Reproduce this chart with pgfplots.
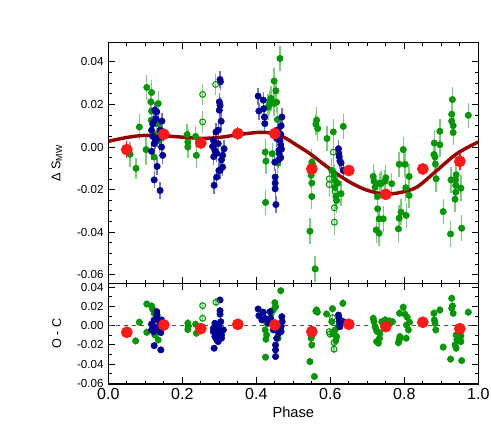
\documentclass[border=0pt]{standalone}
\usepackage{fontspec}
\setmainfont{Liberation Sans}
\usepackage{pgfplots}
\usepackage{pgfplotstable}
\pgfplotsset{compat=1.18}

\definecolor{ptgreen}{RGB}{0,150,0}
\definecolor{errgreen}{RGB}{125,205,125}
\definecolor{ptblue}{RGB}{0,0,150}
\definecolor{errblue}{RGB}{115,115,215}
\definecolor{ptred}{RGB}{255,25,25}
\definecolor{fitred}{RGB}{150,0,0}

% ---- top panel: Delta S_MW ----
\pgfplotstableread{
x y e
0.059 -0.0034 0.006
0.075 -0.0100 0.005
0.084 0.0094 0.006
0.102 -0.0012 0.007
0.104 0.0280 0.006
0.115 0.0212 0.006
0.117 0.0256 0.006
0.117 0.0169 0.005
0.116 0.0126 0.006
0.124 -0.0047 0.006
0.135 0.0204 0.006
0.135 0.0110 0.005
0.130 0.0060 0.006
0.138 0.0030 0.006
0.213 0.0058 0.005
0.215 0.0024 0.006
0.215 0.0000 0.005
0.236 0.0050 0.005
0.238 -0.0039 0.006
0.464 0.0416 0.006
0.448 0.0310 0.006
0.453 0.0264 0.005
0.440 0.0228 0.006
0.437 0.0215 0.005
0.448 0.0204 0.006
0.435 0.0200 0.005
0.432 0.0188 0.006
0.455 0.0210 0.005
0.457 0.0129 0.006
0.424 -0.0024 0.006
0.426 -0.0066 0.006
0.443 -0.0031 0.005
0.458 -0.0075 0.006
0.425 -0.0260 0.006
0.563 0.0126 0.006
0.561 0.0107 0.005
0.566 0.0087 0.006
0.550 -0.0071 0.006
0.553 -0.0085 0.005
0.548 -0.0133 0.006
0.550 -0.0169 0.006
0.550 -0.0232 0.006
0.545 -0.0395 0.006
0.559 -0.0572 0.006
0.591 0.0040 0.006
0.608 0.0071 0.006
0.635 0.0097 0.006
0.604 -0.0110 0.006
0.610 -0.0130 0.005
0.613 -0.0157 0.006
0.612 -0.0190 0.005
0.615 -0.0232 0.006
0.617 -0.0251 0.006
0.629 -0.0219 0.006
0.620 -0.0170 0.005
0.716 -0.0138 0.006
0.718 -0.0160 0.005
0.721 -0.0188 0.006
0.733 -0.0170 0.005
0.728 -0.0232 0.006
0.728 -0.0290 0.006
0.732 -0.0337 0.006
0.743 -0.0337 0.006
0.724 -0.0389 0.006
0.732 -0.0405 0.006
0.750 -0.0144 0.006
0.748 -0.0160 0.005
0.766 -0.0172 0.005
0.737 -0.0172 0.006
0.786 -0.0081 0.006
0.797 -0.0012 0.006
0.802 -0.0081 0.006
0.813 -0.0138 0.006
0.804 -0.0191 0.006
0.813 -0.0227 0.006
0.791 -0.0306 0.006
0.786 -0.0334 0.006
0.784 -0.0384 0.006
0.805 -0.0321 0.006
0.881 0.0019 0.006
0.896 0.0074 0.006
0.896 0.0011 0.006
0.880 -0.0035 0.006
0.883 -0.0047 0.006
0.884 -0.0080 0.006
0.886 -0.0149 0.006
0.905 -0.0303 0.006
0.925 -0.0408 0.006
0.930 0.0223 0.006
0.928 0.0154 0.006
0.928 0.0122 0.006
0.932 0.0100 0.005
0.932 0.0068 0.006
0.973 0.0149 0.006
0.926 -0.0154 0.006
0.939 -0.0154 0.006
0.940 -0.0130 0.005
0.939 -0.0180 0.005
0.939 -0.0212 0.006
0.937 -0.0245 0.006
0.953 -0.0193 0.006
0.955 -0.0381 0.006
}\topgreen

\pgfplotstableread{
x y e
0.255 0.0247 0.005
0.255 0.0118 0.005
0.290 0.0294 0.005
0.608 -0.0024 0.006
0.597 -0.0149 0.006
0.597 -0.0176 0.006
0.611 -0.0285 0.006
0.611 -0.0353 0.006
0.613 -0.0210 0.005
}\topopen

\pgfplotstableread{
x y e
0.120 0.0107 0.004
0.126 0.0173 0.004
0.131 0.0165 0.004
0.129 0.0133 0.004
0.122 0.0118 0.004
0.117 0.0079 0.004
0.120 0.0050 0.004
0.124 0.0016 0.004
0.128 0.0030 0.004
0.133 0.0040 0.004
0.140 0.0079 0.004
0.145 0.0122 0.004
0.144 0.0000 0.004
0.147 -0.0039 0.004
0.132 -0.0091 0.004
0.124 -0.0154 0.004
0.140 -0.0204 0.004
0.138 0.0045 0.004
0.117 -0.0020 0.004
0.302 0.0317 0.004
0.303 0.0306 0.004
0.300 0.0212 0.004
0.302 0.0196 0.004
0.300 0.0173 0.004
0.305 0.0121 0.004
0.297 0.0079 0.004
0.291 0.0071 0.004
0.284 0.0032 0.004
0.282 0.0003 0.004
0.288 -0.0016 0.004
0.297 0.0016 0.004
0.313 -0.0008 0.004
0.309 -0.0039 0.004
0.293 -0.0030 0.004
0.302 -0.0110 0.004
0.309 -0.0094 0.004
0.293 -0.0141 0.004
0.286 -0.0180 0.004
0.306 -0.0060 0.004
0.285 -0.0045 0.004
0.299 -0.0110 0.004
0.405 0.0239 0.004
0.407 0.0169 0.004
0.419 0.0220 0.004
0.420 0.0180 0.004
0.422 0.0141 0.004
0.423 0.0110 0.004
0.469 0.0141 0.004
0.467 0.0100 0.004
0.466 0.0060 0.004
0.464 0.0030 0.004
0.466 0.0010 0.004
0.468 -0.0010 0.004
0.462 -0.0030 0.004
0.466 -0.0050 0.004
0.460 -0.0060 0.004
0.450 -0.0071 0.004
0.451 -0.0141 0.004
0.451 -0.0169 0.004
0.451 -0.0196 0.004
0.453 -0.0270 0.004
0.455 0.0040 0.004
0.458 0.0080 0.004
0.461 -0.0015 0.004
0.622 -0.0008 0.004
0.623 -0.0030 0.004
0.624 -0.0045 0.004
0.626 -0.0065 0.004
0.629 -0.0075 0.004
0.635 -0.0110 0.004
}\topblue

\pgfplotstableread{
x y e
0.05 -0.0012 0.004
0.15 0.0060 0.003
0.25 0.0019 0.003
0.35 0.0063 0.003
0.45 0.0063 0.003
0.55 -0.0103 0.004
0.65 -0.0110 0.002
0.75 -0.0222 0.002
0.85 -0.0103 0.003
0.95 -0.0067 0.004
}\topred

\pgfplotstableread{
x y
0.00 0.0027
0.05 0.0045
0.09 0.0054
0.13 0.0055
0.18 0.0049
0.25 0.0041
0.30 0.0045
0.35 0.0058
0.40 0.0068
0.43 0.0068
0.47 0.0050
0.51 0.0008
0.545 -0.0031
0.58 -0.0078
0.617 -0.0125
0.653 -0.0165
0.689 -0.0196
0.725 -0.0215
0.755 -0.0221
0.79 -0.0213
0.834 -0.0188
0.888 -0.0110
0.942 -0.0031
1.00 0.0024
}\fitcurve

% ---- bottom panel: O - C ----
\pgfplotstableread{
x y e
0.104 0.0224 0.004
0.084 0.0035 0.004
0.074 -0.0158 0.004
0.117 0.0204 0.004
0.120 0.0170 0.004
0.124 0.0128 0.004
0.130 0.0080 0.004
0.132 0.0110 0.004
0.104 -0.0069 0.004
0.126 -0.0096 0.004
0.135 -0.0148 0.004
0.215 0.0025 0.004
0.215 -0.0040 0.004
0.216 -0.0010 0.004
0.236 0.0014 0.004
0.238 -0.0079 0.004
0.466 0.0362 0.004
0.450 0.0238 0.004
0.452 0.0197 0.004
0.446 0.0162 0.004
0.440 0.0128 0.004
0.440 0.0025 0.004
0.428 0.0030 0.004
0.424 -0.0044 0.004
0.428 -0.0096 0.004
0.426 -0.0140 0.004
0.425 -0.0327 0.004
0.459 -0.0130 0.004
0.563 0.0162 0.004
0.565 0.0140 0.004
0.561 0.0150 0.004
0.550 -0.0106 0.004
0.548 -0.0130 0.004
0.550 -0.0200 0.004
0.545 -0.0372 0.004
0.557 -0.0527 0.004
0.549 -0.0040 0.004
0.590 0.0121 0.004
0.606 0.0176 0.004
0.634 0.0231 0.004
0.613 -0.0044 0.004
0.608 -0.0086 0.004
0.617 -0.0113 0.004
0.615 -0.0155 0.004
0.622 -0.0006 0.004
0.604 0.0041 0.004
0.716 0.0076 0.004
0.718 0.0041 0.004
0.721 -0.0010 0.004
0.724 -0.0044 0.004
0.727 -0.0062 0.004
0.725 -0.0165 0.004
0.730 -0.0182 0.004
0.739 0.0041 0.004
0.734 -0.0079 0.004
0.733 -0.0130 0.004
0.748 0.0059 0.004
0.760 0.0049 0.004
0.768 0.0041 0.004
0.787 0.0128 0.004
0.797 0.0190 0.004
0.802 0.0118 0.004
0.806 0.0007 0.004
0.814 0.0035 0.004
0.811 -0.0044 0.004
0.788 -0.0113 0.004
0.787 -0.0141 0.004
0.784 -0.0176 0.004
0.805 -0.0130 0.004
0.808 0.0087 0.004
0.880 0.0128 0.004
0.896 0.0162 0.004
0.881 0.0059 0.004
0.883 0.0025 0.004
0.885 -0.0044 0.004
0.928 0.0283 0.004
0.930 0.0204 0.004
0.928 0.0180 0.004
0.932 0.0128 0.004
0.905 -0.0223 0.004
0.925 -0.0347 0.004
0.940 -0.0096 0.004
0.942 -0.0148 0.004
0.937 -0.0200 0.004
0.940 -0.0234 0.004
0.953 -0.0106 0.004
0.953 -0.0165 0.004
0.955 -0.0362 0.004
0.973 0.0139 0.004
}\botgreen

\pgfplotstableread{
x y e
0.255 0.0207 0.004
0.255 0.0076 0.004
0.291 0.0242 0.004
0.606 0.0083 0.004
0.597 -0.0062 0.004
0.599 -0.0086 0.004
0.610 -0.0176 0.004
0.610 -0.0244 0.004
}\botopen

\pgfplotstableread{
x y e
0.131 0.0118 0.003
0.124 0.0059 0.003
0.135 0.0066 0.003
0.117 0.0018 0.003
0.124 -0.0010 0.003
0.140 0.0025 0.003
0.144 0.0059 0.003
0.122 -0.0062 0.003
0.135 -0.0044 0.003
0.142 -0.0072 0.003
0.117 -0.0044 0.003
0.146 -0.0003 0.003
0.131 0.0145 0.003
0.124 -0.0207 0.003
0.142 -0.0251 0.003
0.302 0.0266 0.003
0.302 0.0155 0.003
0.302 0.0118 0.003
0.304 0.0041 0.003
0.288 0.0025 0.003
0.284 -0.0027 0.003
0.284 -0.0062 0.003
0.288 -0.0113 0.003
0.293 -0.0148 0.003
0.286 -0.0234 0.003
0.297 -0.0165 0.003
0.306 -0.0130 0.003
0.311 -0.0044 0.003
0.302 -0.0062 0.003
0.296 -0.0089 0.003
0.306 -0.0096 0.003
0.299 -0.0010 0.003
0.295 -0.0037 0.003
0.291 0.0007 0.003
0.405 0.0173 0.003
0.407 0.0103 0.003
0.419 0.0139 0.003
0.424 0.0076 0.003
0.415 0.0059 0.003
0.437 0.0145 0.003
0.439 0.0076 0.003
0.432 0.0025 0.003
0.469 0.0093 0.003
0.470 0.0041 0.003
0.467 -0.0010 0.003
0.467 -0.0062 0.003
0.460 -0.0044 0.003
0.446 -0.0044 0.003
0.460 -0.0079 0.003
0.452 -0.0200 0.003
0.452 -0.0251 0.003
0.452 -0.0320 0.003
0.455 -0.0130 0.003
0.622 0.0110 0.003
0.624 0.0076 0.003
0.624 0.0041 0.003
0.626 0.0007 0.003
0.635 0.0041 0.003
0.626 -0.0010 0.003
}\botblue

\pgfplotstableread{
x y e
0.05 -0.0069 0.002
0.15 0.0007 0.002
0.25 -0.0031 0.002
0.35 0.0014 0.002
0.45 0.0007 0.002
0.55 -0.0062 0.002
0.65 0.0014 0.002
0.75 -0.0010 0.002
0.85 0.0035 0.002
0.95 -0.0031 0.002
}\botred

\pgfplotsset{
  panel/.style={
    scale only axis, width=277.5pt,
    xmin=0, xmax=1,
    axis line style={line width=1.1pt},
    tick align=inside,
    tick style={black, line width=0.7pt},
    major tick length=5pt, minor tick length=2.5pt,
    xtick={0,0.2,0.4,0.6,0.8,1}, minor x tick num=3,
    /pgf/number format/assume math mode=true,
    xticklabel style={font=\fontsize{12}{14}\selectfont,
      /pgf/number format/.cd, fixed, fixed zerofill, precision=1},
    yticklabel style={font=\fontsize{8.7}{10}\selectfont,
      /pgf/number format/.cd, fixed, fixed zerofill, precision=2},
    scaled y ticks=false,
    every axis y label/.style={at={(axis description cs:-0.139,0.5)},
      rotate=90, anchor=center, font=\fontsize{9.5}{11}\selectfont},
    clip=true,
  },
  greenpts/.style={only marks, mark=*, mark size=2.4pt,
    mark options={fill=ptgreen, draw=ptgreen},
    error bars/.cd, y dir=both, y explicit,
    error bar style={errgreen, line width=1pt}, error mark=none},
  openpts/.style={only marks, mark=o, mark size=2.2pt,
    mark options={draw=ptgreen, line width=0.8pt},
    error bars/.cd, y dir=both, y explicit,
    error bar style={errgreen, line width=1pt}, error mark=none},
  bluepts/.style={only marks, mark=*, mark size=2.4pt,
    mark options={fill=ptblue, draw=ptblue},
    error bars/.cd, y dir=both, y explicit,
    error bar style={errblue, line width=1pt}, error mark=none},
  redpts/.style={only marks, mark=*, mark size=4.2pt,
    mark options={fill=ptred, draw=ptred},
    error bars/.cd, y dir=both, y explicit,
    error bar style={ptred, line width=1pt}, error mark=none},
}

\begin{document}
\begin{tikzpicture}
\begin{axis}[panel, name=top,
  height=180.5pt,
  ymin=-0.064, ymax=0.049,
  ytick={-0.06,-0.04,-0.02,0,0.02,0.04}, minor y tick num=3,
  xticklabels={},
  ylabel={Δ S\textsubscript{MW}},
]
\addplot[greenpts] table[x=x, y=y, y error=e] {\topgreen};
\addplot[bluepts] table[x=x, y=y, y error=e] {\topblue};
\addplot[openpts] table[x=x, y=y, y error=e] {\topopen};
\addplot[fitred, line width=2.6pt, smooth, tension=0.5] table[x=x, y=y] {\fitcurve};
\addplot[redpts] table[x=x, y=y, y error=e] {\topred};
\end{axis}

\begin{axis}[panel, name=bot,
  at={(top.south west)}, anchor=north west,
  height=75.5pt,
  ymin=-0.0605, ymax=0.0438,
  ytick={-0.06,-0.04,-0.02,0,0.02,0.04}, minor y tick num=1,
  ylabel={O - C},
  xlabel={Phase},
  xlabel style={at={(axis description cs:0.5,-0.28)}, anchor=center,
    font=\fontsize{11}{13}\selectfont},
]
\addplot[black!70, dashed, line width=0.7pt] coordinates {(0,0) (1,0)};
\addplot[greenpts] table[x=x, y=y, y error=e] {\botgreen};
\addplot[bluepts] table[x=x, y=y, y error=e] {\botblue};
\addplot[openpts] table[x=x, y=y, y error=e] {\botopen};
\addplot[redpts] table[x=x, y=y, y error=e] {\botred};
\end{axis}

\pgfresetboundingbox
\useasboundingbox ([xshift=-81.2pt,yshift=32pt]top.north west)
  rectangle ([xshift=9.5pt,yshift=-32.25pt]bot.south east);
\end{tikzpicture}
\end{document}
